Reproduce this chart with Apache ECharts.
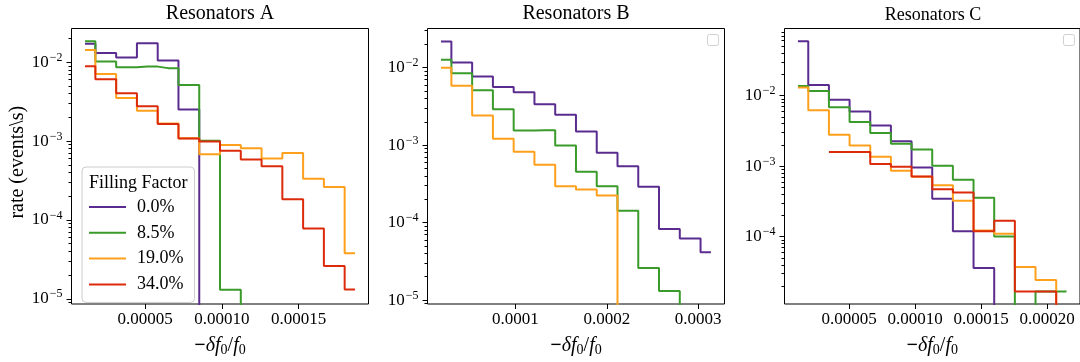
<!DOCTYPE html>
<html><head><meta charset="utf-8">
<script src="https://cdn.jsdelivr.net/npm/echarts@6/dist/echarts.min.js"></script>
<style>html,body{margin:0;padding:0;background:#fff}#c{width:1080px;height:362px}</style>
</head><body><div id="c"></div>
<script>
// ---------- text ----------
const TITLES = ['Resonators A', 'Resonators B', 'Resonators C'];
const SERIES_NAMES = ['0.0%', '8.5%', '19.0%', '34.0%'];
const LEGEND_TITLE = 'Filling Factor';
const Y_NAME = 'rate (events\\s)';
const X_NAME = '{m|\u2212}{i|\u03b4f}{s|0}{n|/}{i|f}{s|0}';

// ---------- tick values ----------
const X_TICKS_A = [0.00005, 0.00010, 0.00015];
const X_TICKS_B = [0.0001, 0.0002, 0.0003];
const X_TICKS_C = [0.00005, 0.00010, 0.00015, 0.00020];
const Y_MAJOR = [1e-5, 1e-4, 1e-3, 1e-2];
const Y_MINOR = [9e-6,
  2e-5, 3e-5, 4e-5, 5e-5, 6e-5, 7e-5, 8e-5, 9e-5,
  2e-4, 3e-4, 4e-4, 5e-4, 6e-4, 7e-4, 8e-4, 9e-4,
  2e-3, 3e-3, 4e-3, 5e-3, 6e-3, 7e-3, 8e-3, 9e-3,
  2e-2, 3e-2, 4e-2, 5e-2, 6e-2, 7e-2, 8e-2];

// ---------- data: bin centres (-df0/f0) and rates (events/s); 0 = empty bin, null = no data ----------
const A_X = [1.073e-5, 2.428e-5, 3.782e-5, 5.137e-5, 6.491e-5, 7.846e-5, 9.201e-5,
             1.0555e-4, 1.1910e-4, 1.3264e-4, 1.4619e-4, 1.5974e-4, 1.7328e-4, 1.8683e-4];
const A_FF00 = [0.0172, 0.0131, 0.0115, 0.0174, 0.0105, 0.00251, 0, 0, 0, 0, 0, 0, 0, 0];
const A_FF85 = [0.0184, 0.0102, 0.00867, 0.0088, 0.00842, 0.00513, 0.00101, 1.30e-5, 0, 0, 0, 0, 0, 0];
const A_FF190 = [0.0143, 0.0071, 0.00351, 0.00242, 0.00167, 0.00109, 0.000679, 0.000895, 0.000814,
                 0.000600, 0.000706, 0.000333, 0.000262, 3.78e-5];
const A_FF340 = [0.0089, 0.0061, 0.00405, 0.00276, 0.00165, 0.00108, 0.000987, 0.000756, 0.000583,
                 0.000478, 0.000183, 7.8e-5, 2.6e-5, 1.31e-5];

const B_X = [1.860e-5, 4.132e-5, 6.404e-5, 8.676e-5, 1.0948e-4, 1.3220e-4, 1.5492e-4,
             1.7764e-4, 2.0036e-4, 2.2308e-4, 2.4580e-4, 2.6852e-4, 2.9124e-4, 3.1396e-4];
const B_FF00 = [0.0218, 0.0117, 0.00769, 0.00564, 0.00483, 0.00337, 0.00247, 0.00150, 0.000800,
                0.000532, 0.000291, 8.24e-5, 6.21e-5, 4.13e-5];
const B_FF85 = [0.0127, 0.00848, 0.00512, 0.00291, 0.00155, 0.00156, 0.00099, 0.000455, 0.000294,
                0.000142, 2.59e-5, 1.31e-5, 0, 0];
const B_FF190 = [0.0100, 0.00586, 0.00242, 0.00121, 0.000824, 0.000558, 0.000294, 0.000267, 0.000224,
                 0, 0, 0, 0, 0];

const C_X = [1.118e-5, 2.683e-5, 4.249e-5, 5.814e-5, 7.380e-5, 8.945e-5, 1.0510e-4,
             1.2076e-4, 1.3641e-4, 1.5207e-4, 1.6772e-4, 1.8337e-4, 1.9903e-4, 2.1468e-4];
const C_FF00 = [0.0587, 0.01406, 0.00871, 0.00593, 0.00375, 0.00225, 0.00096, 0.000344, 0.000120,
                3.6e-5, 0, 0, 0, 0];
const C_FF85 = [0.0136, 0.0116, 0.00681, 0.00422, 0.00294, 0.00207, 0.00172, 0.00101, 0.00064,
                0.000356, 0.000101, 0, 1.67e-5, 1.67e-5];
const C_FF190 = [0.01305, 0.0062, 0.00278, 0.00196, 0.00136, 0.000863, 0.00071, 0.000535, 0.000324,
                 0.000123, 0.000110, 3.71e-5, 2.43e-5, 0];
const C_FF340 = [null, null, 0.00158, 0.00158, 0.00107, 0.000982, 0.000713, 0.00047, 0.000422,
                 0.000120, 0.000169, 1.67e-5, 1.67e-5, 0];

// ---------- style ----------
const COLORS = ['#5b2c8f', '#3a9b2a', '#ffa01c', '#dc2b0b'];
const FONT = '"Liberation Serif", "Times New Roman", serif';
const ZERO_FLOOR = 1e-12; // empty bins: drawn far below the visible log range (as matplotlib clips them)

const panels = [
  {grid: {left: 71.5, top: 28.5, width: 297, height: 281}, xMin: 1.93e-6, xMax: 1.956e-4,
   yMin: 8.59e-6, yMax: 0.02679, xTicks: X_TICKS_A, digits: 5, x: A_X,
   series: [A_FF00, A_FF85, A_FF190, A_FF340]},
  {grid: {left: 427.5, top: 28.5, width: 297, height: 281}, xMin: 3.83e-6, xMax: 3.288e-4,
   yMin: 8.89e-6, yMax: 0.03206, xTicks: X_TICKS_B, digits: 4, x: B_X,
   series: [B_FF00, B_FF85, B_FF190, null]},
  {grid: {left: 784.5, top: 28.5, width: 297, height: 281}, xMin: 1.0e-6, xMax: 2.249e-4,
   yMin: 1.114e-5, yMax: 0.0891, xTicks: X_TICKS_C, digits: 5, x: C_X,
   series: [C_FF00, C_FF85, C_FF190, C_FF340]}
];

function powLabel(v) {
  const e = Math.round(Math.log10(v));
  return '{b|10}{p|' + (e < 0 ? '\u2212' : '') + Math.abs(e) + '}';
}

const grids = [], xAxes = [], yAxes = [], series = [];
panels.forEach((p, i) => {
  grids.push(Object.assign({show: true, borderColor: '#000', borderWidth: 1, backgroundColor: 'transparent'}, p.grid));
  xAxes.push({
    type: 'value', gridIndex: i, min: p.xMin, max: p.xMax,
    axisLine: {show: false}, splitLine: {show: false},
    axisTick: {show: true, length: 5, customValues: p.xTicks, lineStyle: {color: '#000', width: 1}},
    axisLabel: {customValues: p.xTicks, formatter: v => v.toFixed(p.digits), color: '#000',
                fontFamily: FONT, fontSize: 17, margin: 7},
    name: X_NAME, nameLocation: 'middle', nameGap: 31,
    nameTextStyle: {color: '#000', fontFamily: FONT, fontSize: 20, rich: {
      m: {fontFamily: FONT, fontSize: 20, fontWeight: 'bold', color: '#000'},
      i: {fontFamily: FONT, fontSize: 20, fontStyle: 'italic', color: '#000'},
      n: {fontFamily: FONT, fontSize: 20, color: '#000'},
      s: {fontFamily: FONT, fontSize: 14, color: '#000', padding: [8, 0, 0, 0]}
    }}
  });
  const minor = Y_MINOR.filter(v => v >= p.yMin && v <= p.yMax);
  const major = Y_MAJOR.filter(v => v >= p.yMin && v <= p.yMax);
  const mainIdx = yAxes.length;
  yAxes.push({
    type: 'log', logBase: 10, gridIndex: i, min: p.yMin, max: p.yMax,
    axisLine: {show: false}, splitLine: {show: false}, minorTick: {show: false},
    axisTick: {show: true, length: 5, customValues: major, lineStyle: {color: '#000', width: 1}},
    axisLabel: {customValues: major, formatter: powLabel, margin: 9, color: '#000', rich: {
      b: {fontFamily: FONT, fontSize: 17, color: '#000'},
      p: {fontFamily: FONT, fontSize: 12, color: '#000', padding: [0, 0, 9, 1]}
    }},
    name: i === 0 ? Y_NAME : '', nameLocation: 'middle', nameGap: 44,
    nameTextStyle: {color: '#000', fontFamily: FONT, fontSize: 20, padding: [0, 0, 0, 8]}
  });
  yAxes.push({
    type: 'log', logBase: 10, gridIndex: i, min: p.yMin, max: p.yMax, position: 'left', offset: 0,
    axisLine: {show: false}, splitLine: {show: false}, minorTick: {show: false},
    axisTick: {show: true, length: 3, customValues: minor, lineStyle: {color: '#000', width: 1}},
    axisLabel: {show: false}
  });
  p.series.forEach((vals, k) => {
    if (!vals) return;
    series.push({
      type: 'line', name: SERIES_NAMES[k], xAxisIndex: i, yAxisIndex: mainIdx,
      step: 'middle', symbol: 'none', clip: true,
      lineStyle: {color: COLORS[k], width: 2}, itemStyle: {color: COLORS[k]},
      data: p.x.map((x, j) => [x, vals[j] === null ? null : (vals[j] > 0 ? vals[j] : ZERO_FLOOR)]),
      z: 2 + k
    });
  });
});

const chart = echarts.init(document.getElementById('c'), null, {renderer: 'canvas'});
chart.setOption({
  animation: false,
  backgroundColor: '#fff',
  grid: grids, xAxis: xAxes, yAxis: yAxes, series: series,
  legend: {
    data: SERIES_NAMES, orient: 'vertical', left: 82, top: 167,
    icon: 'rect', padding: [31, 11, 9, 7], itemWidth: 37, itemHeight: 2, itemGap: 7.8,
    selectedMode: false,
    textStyle: {fontFamily: FONT, fontSize: 18, color: '#000', lineHeight: 18, padding: [0, 0, 0, 6]},
    borderColor: '#cccccc', borderWidth: 1, borderRadius: 4, backgroundColor: 'rgba(255,255,255,0.8)'
  },
  graphic: [
    {type: 'text', x: 220, y: 14, z: 100, style: {text: TITLES[0], font: '20px ' + FONT, fill: '#000', align: 'center', verticalAlign: 'middle'}},
    {type: 'text', x: 576, y: 14, z: 100, style: {text: TITLES[1], font: '20px ' + FONT, fill: '#000', align: 'center', verticalAlign: 'middle'}},
    {type: 'text', x: 933, y: 15, z: 100, style: {text: TITLES[2], font: '18px ' + FONT, fill: '#000', align: 'center', verticalAlign: 'middle'}},
    {type: 'text', x: 89, y: 183, z: 100, style: {text: LEGEND_TITLE, font: '18px ' + FONT, fill: '#000', align: 'left', verticalAlign: 'middle'}},
    {type: 'rect', z: 100, shape: {x: 707.5, y: 34.5, width: 11, height: 11, r: 2}, style: {fill: '#fff', stroke: '#d0d0d0', lineWidth: 1}},
    {type: 'rect', z: 100, shape: {x: 1063.5, y: 34.5, width: 11, height: 11, r: 2}, style: {fill: '#fff', stroke: '#d0d0d0', lineWidth: 1}}
  ]
});
</script></body></html>
